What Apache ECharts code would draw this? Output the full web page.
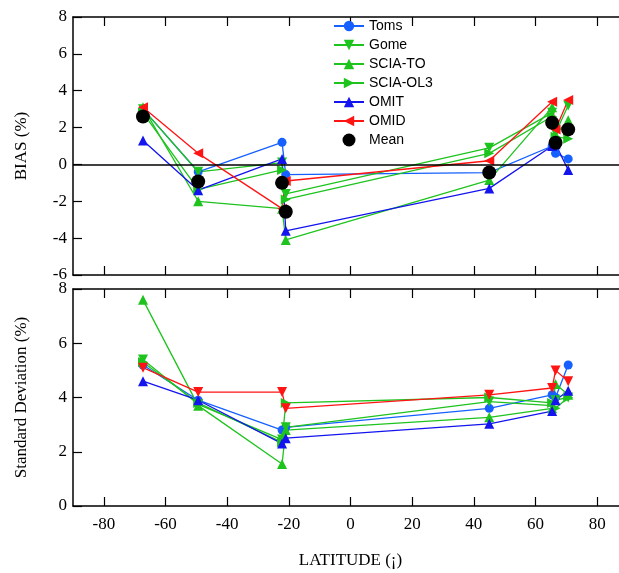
<!DOCTYPE html>
<html><head><meta charset="utf-8">
<script src="https://cdn.jsdelivr.net/npm/echarts@6/dist/echarts.min.js"></script>
<style>html,body{margin:0;padding:0;background:#fff;}#c{width:619px;height:573px;}</style>
</head><body><div id="c"></div>
<script>
// Latitudes of stations
const latitudes = [-67.3, -49.4, -22.2, -21.0, 45.0, 65.4, 66.5, 70.6];
const xTicks = [-80, -60, -40, -20, 0, 20, 40, 60, 80];
const seriesNames = ['Toms', 'Gome', 'SCIA-TO', 'SCIA-OL3', 'OMIT', 'OMID', 'Mean'];
// BIAS (%)
const biasToms   = [3.0, -0.4, 1.2, -0.55, -0.45, 1.0, 0.6, 0.3];
const biasGome   = [3.0, -0.4, 0.1, -1.6, 0.9, 2.8, 1.7, 3.2];
const biasSciaTo = [3.1, -2.0, -2.4, -4.1, -0.85, 3.1, 1.6, 2.4];
const biasSciaOl = [2.8, -1.35, -0.3, -1.9, 0.6, 2.6, 1.5, 1.4];
const biasOmit   = [1.3, -1.4, 0.3, -3.6, -1.3, 1.0, 1.1, -0.3];
const biasOmid   = [3.1, 0.6, -2.4, -0.9, 0.2, 3.4, 1.9, 3.5];
const biasMean   = [2.6, -0.93, -1.0, -2.57, -0.44, 2.26, 1.18, 1.9];
// Standard Deviation (%)
const sdToms   = [5.2, 3.9, 2.8, 2.9, 3.6, 4.1, 4.0, 5.2];
const sdGome   = [5.4, 3.75, 2.45, 2.9, 3.85, 3.7, 3.9, 4.0];
const sdSciaTo = [7.6, 3.7, 1.55, 2.8, 3.27, 3.6, 4.5, 4.1];
const sdSciaOl = [5.3, 3.8, 2.35, 3.8, 4.0, 3.8, 3.6, 4.0];
const sdOmit   = [4.6, 3.9, 2.3, 2.5, 3.03, 3.5, 3.9, 4.25];
const sdOmid   = [5.1, 4.2, 4.2, 3.6, 4.1, 4.35, 5.0, 4.6];

const C_TOMS = '#1560ff', C_GREEN = '#1ec31e', C_OMIT = '#1414ee', C_RED = '#ff1414';
const pair = arr => latitudes.map((x, i) => [x, arr[i]]);
const serif = 'Liberation Serif';

function axisX(gridIndex, pos, labels, extra) {
  return Object.assign({
    type: 'value', gridIndex, position: pos, min: -90, max: 90,
    axisLine: { show: true, onZero: false, lineStyle: { color: '#000', width: 1.5 } },
    axisTick: { show: true, inside: true, length: 9, customValues: xTicks, lineStyle: { color: '#000', width: 1.2 } },
    axisLabel: { show: labels, customValues: xTicks, fontFamily: serif, fontSize: 17, color: '#000', margin: 10 },
    splitLine: { show: false }
  }, extra || {});
}
function axisY(gridIndex, pos, min, max, labels, extra) {
  return Object.assign({
    type: 'value', gridIndex, position: pos, min, max, interval: 2,
    axisLine: { show: true, onZero: false, lineStyle: { color: '#000', width: 1.5 } },
    axisTick: { show: true, inside: true, length: 9, lineStyle: { color: '#000', width: 1.2 } },
    axisLabel: { show: labels, fontFamily: serif, fontSize: 17, color: '#000', margin: 6 },
    splitLine: { show: false }
  }, extra || {});
}
function lineSeries(name, color, data, symbol, rot, grid, size) {
  return {
    name, type: 'line', data: pair(data), xAxisIndex: grid * 2, yAxisIndex: grid * 2,
    symbol, symbolRotate: rot, symbolSize: size || 10,
    lineStyle: { color, width: 1.3 }, itemStyle: { color }, animation: false
  };
}

const chart = echarts.init(document.getElementById('c'));
chart.setOption({
  animation: false,
  grid: [
    { left: 73, top: 17, width: 555, height: 258, outerBoundsMode: 'none', containLabel: false },
    { left: 73, top: 289, width: 555, height: 217, outerBoundsMode: 'none', containLabel: false }
  ],
  xAxis: [
    axisX(0, 'bottom', false),
    axisX(0, 'top', false),
    axisX(1, 'bottom', true, { name: 'LATITUDE (¡)', nameLocation: 'middle', nameGap: 46,
      nameTextStyle: { fontFamily: serif, fontSize: 17, color: '#000' } }),
    axisX(1, 'top', false)
  ],
  yAxis: [
    axisY(0, 'left', -6, 8, true, { name: 'BIAS (%)', nameLocation: 'middle', nameGap: 43,
      nameTextStyle: { fontFamily: serif, fontSize: 17, color: '#000' } }),
    axisY(0, 'right', -6, 8, false),
    axisY(1, 'left', 0, 8, true, { name: 'Standard Deviation (%)', nameLocation: 'middle', nameGap: 43,
      nameTextStyle: { fontFamily: serif, fontSize: 17, color: '#000' } }),
    axisY(1, 'right', 0, 8, false)
  ],
  legend: {
    data: seriesNames, orient: 'vertical', left: 328, top: 14,
    itemWidth: 30, itemHeight: 13, itemGap: 5,
    textStyle: { fontFamily: 'Liberation Sans', fontSize: 14, color: '#000' }
  },
  series: [
    Object.assign(lineSeries('Toms', C_TOMS, biasToms, 'circle', 0, 0, 9), {
      markLine: { silent: true, symbol: 'none', label: { show: false },
        lineStyle: { color: '#000', width: 1.5, type: 'solid' }, data: [{ yAxis: 0 }] }
    }),
    lineSeries('Gome', C_GREEN, biasGome, 'triangle', 180, 0),
    lineSeries('SCIA-TO', C_GREEN, biasSciaTo, 'triangle', 0, 0),
    lineSeries('SCIA-OL3', C_GREEN, biasSciaOl, 'triangle', -90, 0),
    lineSeries('OMIT', C_OMIT, biasOmit, 'triangle', 0, 0),
    lineSeries('OMID', C_RED, biasOmid, 'triangle', 90, 0),
    { name: 'Mean', type: 'scatter', data: pair(biasMean), xAxisIndex: 0, yAxisIndex: 0,
      symbol: 'circle', symbolSize: 14, itemStyle: { color: '#000', opacity: 1 }, z: 5 },
    lineSeries('Toms', C_TOMS, sdToms, 'circle', 0, 1, 9),
    lineSeries('Gome', C_GREEN, sdGome, 'triangle', 180, 1),
    lineSeries('SCIA-TO', C_GREEN, sdSciaTo, 'triangle', 0, 1),
    lineSeries('SCIA-OL3', C_GREEN, sdSciaOl, 'triangle', -90, 1),
    lineSeries('OMIT', C_OMIT, sdOmit, 'triangle', 0, 1),
    lineSeries('OMID', C_RED, sdOmid, 'triangle', 180, 1)
  ]
});
</script>
</body></html>
